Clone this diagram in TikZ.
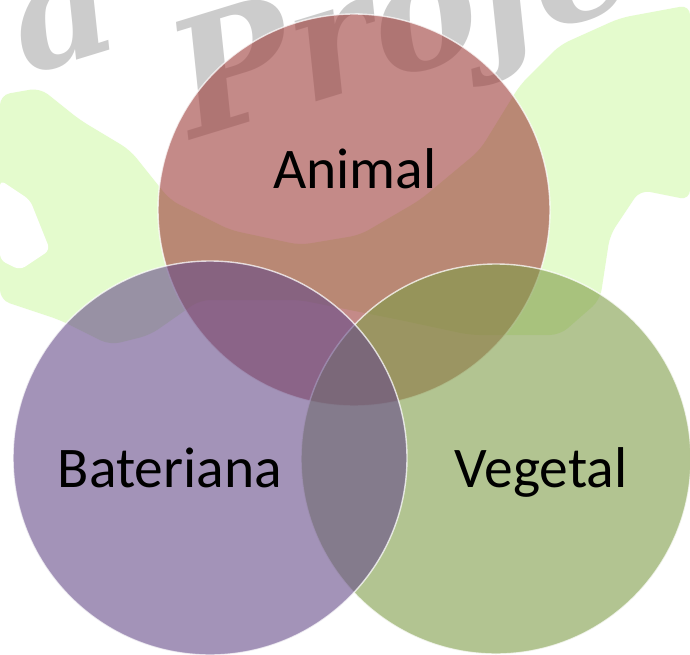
\documentclass[tikz,border=0pt]{standalone}
\usepackage{fontspec}
\newfontfamily\labelfont{Carlito}
\newfontfamily\wmfont{DejaVu Serif}
\definecolor{animalc}{HTML}{9D3C39}
\definecolor{vegc}{HTML}{809D49}
\definecolor{batc}{HTML}{664B89}
\definecolor{splashc}{HTML}{E4FBCD}
\definecolor{wmc}{HTML}{CCCCCC}
\begin{document}
\begin{tikzpicture}[x=1pt,y=-1pt,
  venn/.style={circle, inner sep=0pt, line width=1.4pt, draw=white, draw opacity=0.75, fill opacity=0.6},
  lbl/.style={font=\labelfont\fontsize{57.5}{60}\selectfont, text=black, inner sep=0pt},
  wm/.style={font=\wmfont\bfseries\itshape\fontsize{160}{160}\selectfont, text=wmc, inner sep=0pt}]
\path[use as bounding box] (0,0) rectangle (690,655);
\begin{scope}
\clip (0,0) rectangle (690,655);
\fill[white] (0,0) rectangle (690,655);
% background splash
\fill[splashc, rounded corners=10pt]
  (0,95) -- (40,88) -- (80,120) -- (130,150) -- (170,200) -- (230,230) -- (300,245)
  -- (360,235) -- (420,200) -- (480,150) -- (520,85) -- (560,45) -- (620,18) -- (690,5)
  -- (690,200) -- (640,190) -- (610,235) -- (600,300) -- (560,335) -- (470,335)
  -- (400,320) -- (300,300) -- (200,300) -- (150,335) -- (110,345) -- (60,320) -- (0,300) -- cycle;
\fill[white, rounded corners=6pt] (0,180) -- (30,200) -- (50,250) -- (20,270) -- (0,260) -- cycle;
\fill[white, rounded corners=6pt] (630,230) -- (690,210) -- (690,290) -- (650,280) -- cycle;
% watermark
\node[wm, anchor=base west, rotate=17] (wmark) at (192,140) {Projec};
\node[wm, anchor=base east, rotate=17] (wmarka) at (126,45) {a};
% circles
\node[venn, fill=animalc, minimum size=392pt] (ca) at (354,210) {};
\node[venn, fill=vegc, minimum size=390pt] (cv) at (496,459) {};
\node[venn, fill=batc, minimum size=394pt] (cb) at (210,458) {};
\end{scope}
% labels
\node[lbl, anchor=base] (animal) at (355,189) {Animal};
\node[lbl, anchor=base] (bateriana) at (170,487) {Bateriana};
\node[lbl, anchor=base] (vegetal) at (541,487) {Vegetal};
\end{tikzpicture}
\end{document}
